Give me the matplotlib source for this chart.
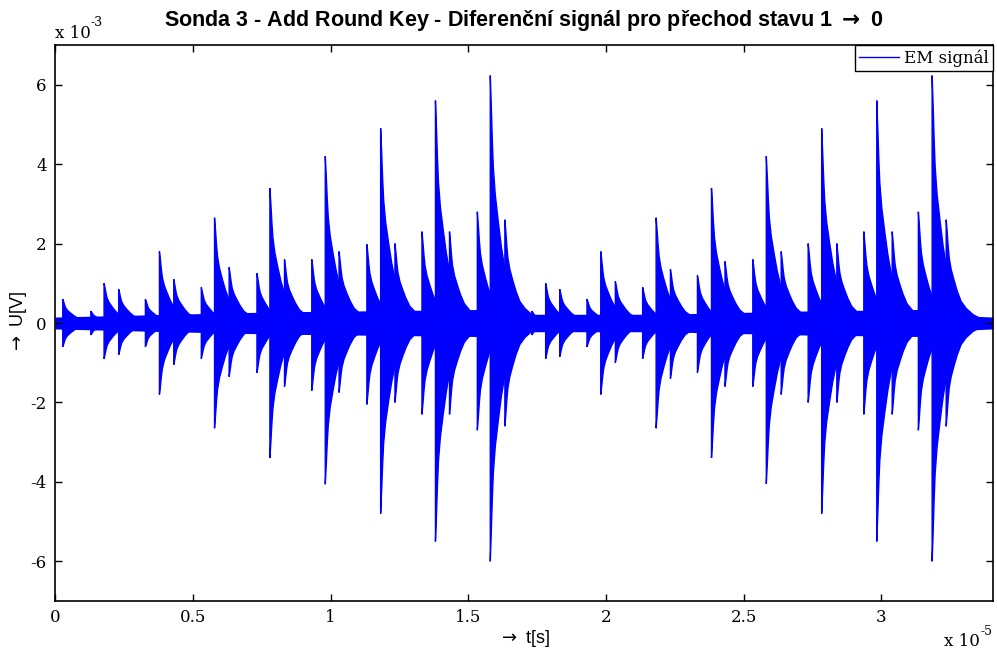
import matplotlib
matplotlib.use("Agg")
import matplotlib.pyplot as plt
import numpy as np

# spike onsets [x 1e-5 s], positive and negative peaks [x 1e-3 V]
spike_t = [0.028, 0.130, 0.178, 0.231, 0.328, 0.379, 0.431, 0.531, 0.579, 0.632,
           0.733, 0.780, 0.833, 0.932, 0.981, 1.031, 1.132, 1.182, 1.234, 1.332,
           1.381, 1.432, 1.533, 1.580, 1.633, 1.731, 1.781, 1.832, 1.931, 1.981,
           2.034, 2.133, 2.182, 2.234, 2.332, 2.383, 2.432, 2.533, 2.582, 2.636,
           2.734, 2.783, 2.838, 2.936, 2.983, 3.039, 3.134, 3.184, 3.235]
spike_pos = [0.6, 0.3, 1.0, 0.85, 0.6, 1.8, 1.1, 0.9, 2.65, 1.4,
             1.25, 3.4, 1.6, 1.6, 4.2, 1.8, 1.98, 4.9, 2.0, 2.3,
             5.6, 2.3, 2.8, 6.23, 2.6, 0.3, 1.0, 0.85, 0.6, 1.8,
             1.05, 0.9, 2.65, 1.35, 1.2, 3.4, 1.55, 1.6, 4.2, 1.8,
             2.0, 4.9, 2.0, 2.3, 5.6, 2.3, 2.8, 6.23, 2.6]
spike_neg = [0.6, 0.3, 0.9, 0.8, 0.6, 1.8, 1.05, 0.9, 2.65, 1.35,
             1.25, 3.4, 1.6, 1.7, 4.06, 1.75, 2.05, 4.8, 2.0, 2.3,
             5.5, 2.3, 2.7, 6.0, 2.6, 0.3, 0.9, 0.85, 0.6, 1.8,
             1.0, 0.9, 2.65, 1.4, 1.25, 3.4, 1.6, 1.6, 4.05, 1.8,
             2.0, 4.8, 2.0, 2.3, 5.5, 2.3, 2.7, 6.0, 2.6]

# decay of the envelope after a spike
decay_dt = [0.0, 0.0036, 0.0073, 0.011, 0.018, 0.029, 0.040, 0.054, 0.073, 0.098, 0.127]
decay_frac = [1.0, 0.88, 0.74, 0.63, 0.52, 0.41, 0.31, 0.21, 0.14, 0.08, 0.04]

# noise floor between the spikes
base_t = [0.0, 0.3, 0.8, 1.3, 1.65, 1.72, 2.2, 2.7, 3.25, 3.30, 3.405]
base_amp = [0.15, 0.2, 0.28, 0.32, 0.35, 0.22, 0.22, 0.3, 0.35, 0.18, 0.15]

plt.rcParams['axes.unicode_minus'] = False
serif = ['DejaVu Serif']
sans = ['Liberation Sans', 'DejaVu Sans']
blue = '#0000ff'

fig = plt.figure(figsize=(9.97, 6.52), dpi=100)
ax = fig.add_axes([0.0552, 0.0782, 0.9408, 0.8528])

ax.fill_between(base_t, np.array(base_amp), -np.array(base_amp), color=blue, lw=0)
dt = np.array(decay_dt)
fr = np.array(decay_frac)
for t0, p, n in zip(spike_t, spike_pos, spike_neg):
    xs = np.concatenate([t0 + dt, (t0 + dt)[::-1]])
    ys = np.concatenate([p * fr, (-n * fr)[::-1]])
    ax.fill(xs, ys, color=blue, lw=1.0, ec=blue)
ax.plot([], [], color=blue, lw=1, label='EM signál')

ax.set_xlim(0, 3.405)
ax.set_ylim(-7, 7)
ax.set_xticks([0, 0.5, 1, 1.5, 2, 2.5, 3])
ax.set_xticklabels(['0', '0.5', '1', '1.5', '2', '2.5', '3'])
ax.set_yticks([-6, -4, -2, 0, 2, 4, 6])
ax.tick_params(direction='in', length=5, width=1, top=True, right=True,
               labelsize=12, pad=6)
for lab in ax.get_xticklabels() + ax.get_yticklabels():
    lab.set_family(serif)
for s in ax.spines.values():
    s.set_linewidth(1.2)

ax.set_title(r'Sonda 3 - Add Round Key - Diferenční signál pro přechod stavu 1 $\mathbf{\rightarrow}$ 0',
             family=sans, fontsize=15.5, fontweight='bold', pad=14)
ax.set_xlabel(r'$\rightarrow$ t[s]', family=sans, fontsize=13, labelpad=1)
ax.set_ylabel(r'$\rightarrow$ U[V]', family=sans, fontsize=13, labelpad=1)

# multiplier labels written like MATLAB does ("x 10" with raised exponent)
m1 = ax.text(0, 1.006, 'x 10', transform=ax.transAxes, family=serif,
             fontsize=12, ha='left', va='bottom')
ax.annotate('-3', xy=(1, 0.75), xycoords=m1, family=serif, fontsize=9,
            ha='left', va='bottom')
m2 = ax.text(0.948, -0.058, 'x 10', transform=ax.transAxes, family=serif,
             fontsize=12, ha='left', va='top')
ax.annotate('-5', xy=(1, 0.75), xycoords=m2, family=serif, fontsize=9,
            ha='left', va='bottom')

leg = ax.legend(loc='upper right', borderaxespad=0, fancybox=False,
                prop={'family': serif, 'size': 12}, handlelength=2.4,
                handletextpad=0.3, borderpad=0.25, framealpha=1)
leg.get_frame().set_edgecolor('black')
leg.get_frame().set_linewidth(1.0)

fig.savefig('out.png', dpi=100)
